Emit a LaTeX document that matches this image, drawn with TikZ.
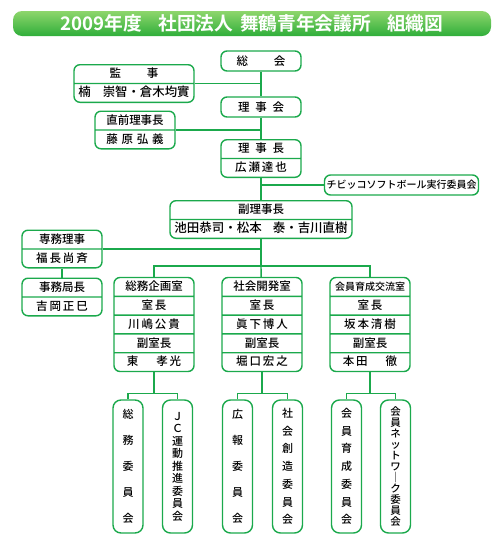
\documentclass[tikz,border=0pt]{standalone}
\usepackage{fontspec}
\usetikzlibrary{shapes.multipart}
\newfontfamily\jp{Noto Sans CJK JP Medium}[BoldFont={Noto Sans CJK JP Bold}]
\definecolor{orggreen}{HTML}{1BA94C}
\definecolor{bartop}{HTML}{8ED66C}
\definecolor{barbottom}{HTML}{2FAE3A}
\newcommand{\rs}{\rule[-5pt]{0pt}{17.4pt}}

\begin{document}
\begin{tikzpicture}[
    x=1pt, y=-1pt,
    every node/.style={font=\jp\fontsize{11.5}{13}\selectfont, inner sep=0pt},
    box/.style={rectangle, draw=orggreen, line width=1.4pt, fill=white, rounded corners=6pt, minimum width=80, minimum height=20, inner xsep=2pt},
    rows/.style={box, rectangle split, rectangle split parts=#1, inner ysep=0pt},
    vbox/.style={box, rounded corners=8pt, minimum width=30, minimum height=133, align=center, font=\jp\fontsize{11}{#1}\selectfont},
    conn/.style={draw=orggreen, line width=1.4pt}
]
\useasboundingbox (0,0) rectangle (502,547);

% title
\node[rounded corners=9pt, top color=bartop, bottom color=barbottom, minimum width=478, minimum height=25, text=white, font=\jp\bfseries\fontsize{18.7}{20}\selectfont] (title) at (252,23.5) {2009年度\hspace{16pt}社団法人\hspace{7pt}舞鶴青年会議所\hspace{16pt}組織図};

% executives
\node[box] (sokai) at (261,61) {総\hspace{26pt}会};
\node[rows=2, minimum width=120] (kanji) at (134,83.5) {\rs 監\hspace{26pt}事\nodepart{two}\rs{\fontsize{12.4}{14}\selectfont 楠\hspace{12pt}崇智・倉木均實}};
\node[box] (rijikai) at (261,107) {理\enspace 事\enspace 会};
\node[rows=2] (chokuzen) at (135,130) {\rs 直前理事長\nodepart{two}\rs 藤\,\,原\,\,弘\,\,義};
\node[rows=2] (rijicho) at (261,158.5) {\rs 理\enspace 事\enspace 長\nodepart{two}\rs 広\,瀬\,達\,也};
\node[box, minimum width=151, font=\jp\fontsize{10}{12}\selectfont] (chibikko) at (401.5,185) {チビッコソフトボール実行委員会};
\node[rows=2, minimum width=182] (fuku) at (261,219.5) {\rs 副理事長\nodepart{two}\rs{\fontsize{12.5}{14}\selectfont 池田恭司・松本\hspace{11pt}泰・吉川直樹}};
\node[rows=2] (senmu) at (62,249) {\rs 専務理事\nodepart{two}\rs 福\,長\,尚\,斉};
\node[rows=2] (jimu) at (62,297) {\rs 事務局長\nodepart{two}\rs 吉\,岡\,正\,巳};

% offices
\node[rows=5] (soumu) at (154,324.5) {\rs 総務企画室\nodepart{two}\rs 室\,長\nodepart{three}\rs 川\,嶋\,公\,貴\nodepart{four}\rs 副室長\nodepart{five}\rs 東\hspace{18pt}孝\,光};
\node[rows=5] (shakai) at (262,324.5) {\rs 社会開発室\nodepart{two}\rs 室\,長\nodepart{three}\rs 眞\,下\,博\,人\nodepart{four}\rs 副室長\nodepart{five}\rs 堀\,口\,宏\,之};
\node[rows=5] (kaiin) at (370,324.5) {\rs{\fontsize{10}{12}\selectfont 会員育成交流室}\nodepart{two}\rs 室\,長\nodepart{three}\rs 坂\,本\,清\,樹\nodepart{four}\rs 副室長\nodepart{five}\rs 本\,田\hspace{18pt}徹};

% committees
\node[vbox=26] (iinA) at (128,466.5) {総\\務\\委\\員\\会};
\node[vbox=12.5] (iinB) at (177.5,466.5) {Ｊ\\Ｃ\\運\\動\\推\\進\\委\\員\\会};
\node[vbox=26] (iinC) at (237.5,466.5) {広\\報\\委\\員\\会};
\node[vbox=17.7] (iinD) at (287.5,466.5) {社\\会\\創\\造\\委\\員\\会};
\node[vbox=17.7] (iinE) at (346.5,466.5) {会\\員\\育\\成\\委\\員\\会};
\node[vbox=11, font=\jp\fontsize{10.5}{11}\selectfont] (iinF) at (395.5,466.5) {会\\員\\ネ\\ッ\\ト\\ワ\\｜\\ク\\委\\員\\会};

% trunk
\draw[conn] (sokai) -- (rijikai);
\draw[conn] (rijikai) -- (rijicho);
\draw[conn] (rijicho) -- (fuku);
\draw[conn] (kanji) -- (kanji -| sokai);
\draw[conn] (chokuzen) -- (chokuzen -| sokai);
\draw[conn] (chibikko) -- (chibikko -| sokai);
\draw[conn] (senmu) -- (senmu -| sokai);
\draw[conn] (senmu) -- (jimu);

% offices
\coordinate (bar) at (261,266);
\draw[conn] (fuku) -- (bar);
\draw[conn] (soumu.north) |- (bar) -| (kaiin.north);
\draw[conn] (bar) -- (shakai);

% committees
\draw[conn] (soumu.south) -- ++(0,21) coordinate (forkA);
\draw[conn] (shakai.south) -- ++(0,21) coordinate (forkB);
\draw[conn] (kaiin.south) -- ++(0,21) coordinate (forkC);
\draw[conn] (iinA.north) |- (forkA) -| (iinB.north);
\draw[conn] (iinC.north) |- (forkB) -| (iinD.north);
\draw[conn] (iinE.north) |- (forkC) -| (iinF.north);
\end{tikzpicture}
\end{document}
